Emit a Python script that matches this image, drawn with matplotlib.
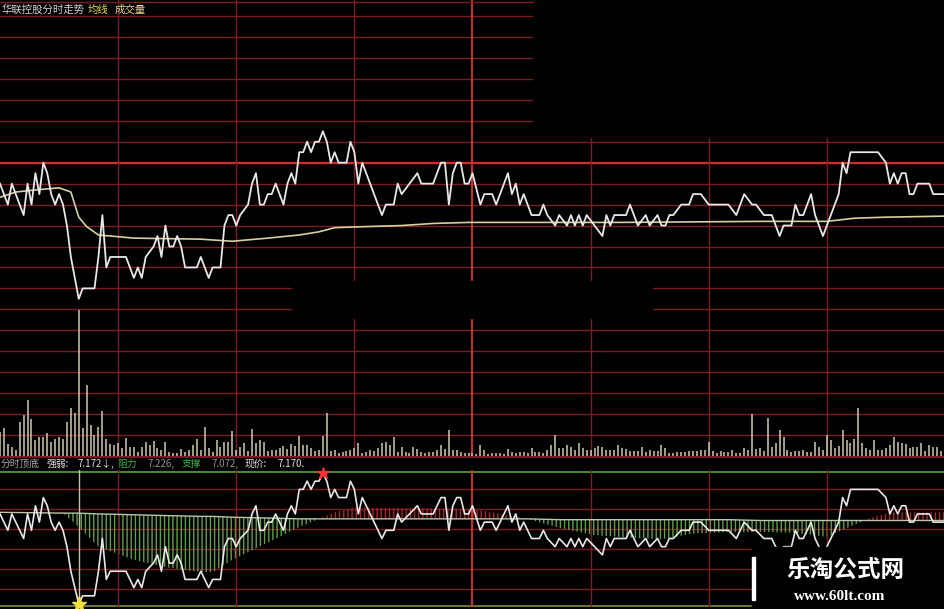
import numpy as np
import matplotlib.pyplot as plt
from matplotlib.patches import Rectangle

plt.rcParams['font.family'] = ['Noto Sans CJK SC', 'DejaVu Sans']
plt.rcParams['hatch.linewidth'] = 1.0

# 分时价格 (分钟序号, 价格)
price_t = [0, 2, 3, 6, 7, 8, 9, 10, 11, 12, 13, 14, 15, 16, 17, 18, 19, 20, 21, 24,
           25, 26, 27, 28, 32, 33, 34, 35, 36, 37, 39, 40, 41, 42, 43, 44, 45, 46, 47, 50,
           51, 52, 53, 54, 56, 57, 58, 59, 60, 61, 63, 64, 65, 66, 67, 68, 69, 70, 71, 72,
           73, 74, 75, 76, 77, 78, 79, 80, 81, 82, 83, 84, 85, 86, 88, 89, 90, 91, 92, 93,
           94, 95, 97, 98, 100, 101, 102, 104, 106, 107, 110, 112, 113, 114, 115, 116, 117, 118, 119, 120,
           122, 123, 125, 126, 127, 129, 130, 131, 132, 133, 135, 137, 138, 139, 141, 142, 144, 145, 146, 147,
           148, 149, 151, 153, 154, 155, 156, 159, 160, 161, 162, 164, 165, 167, 168, 169, 170, 171, 173, 175,
           176, 178, 180, 185, 187, 189, 191, 192, 194, 196, 198, 199, 201, 202, 203, 204, 206, 207, 209, 210,
           213, 214, 215, 216, 217, 223, 225, 226, 227, 228, 229, 230, 231, 232, 233, 236, 237, 240]
price = [7.18, 7.16, 7.18, 7.15, 7.18, 7.16, 7.19, 7.17, 7.20, 7.19, 7.17, 7.16, 7.17, 7.16, 7.14, 7.11, 7.09, 7.07, 7.08, 7.08,
         7.11, 7.15, 7.10, 7.11, 7.11, 7.10, 7.09, 7.10, 7.09, 7.11, 7.12, 7.13, 7.11, 7.14, 7.12, 7.12, 7.13, 7.12, 7.10, 7.10,
         7.11, 7.10, 7.09, 7.10, 7.10, 7.14, 7.15, 7.15, 7.14, 7.15, 7.16, 7.18, 7.19, 7.16, 7.16, 7.17, 7.17, 7.18, 7.17, 7.16,
         7.18, 7.19, 7.18, 7.21, 7.21, 7.22, 7.21, 7.22, 7.22, 7.23, 7.22, 7.20, 7.21, 7.20, 7.20, 7.22, 7.21, 7.18, 7.20, 7.19,
         7.18, 7.17, 7.15, 7.16, 7.16, 7.18, 7.17, 7.18, 7.19, 7.18, 7.18, 7.20, 7.20, 7.16, 7.19, 7.20, 7.20, 7.18, 7.18, 7.19,
         7.16, 7.17, 7.17, 7.16, 7.17, 7.19, 7.17, 7.18, 7.16, 7.17, 7.15, 7.15, 7.16, 7.15, 7.14, 7.15, 7.14, 7.15, 7.14, 7.15,
         7.14, 7.15, 7.14, 7.13, 7.15, 7.14, 7.15, 7.15, 7.16, 7.15, 7.14, 7.15, 7.14, 7.15, 7.14, 7.14, 7.15, 7.15, 7.16, 7.16,
         7.17, 7.17, 7.16, 7.16, 7.15, 7.17, 7.16, 7.16, 7.15, 7.15, 7.13, 7.14, 7.14, 7.16, 7.15, 7.15, 7.17, 7.15, 7.13, 7.14,
         7.17, 7.20, 7.19, 7.21, 7.21, 7.21, 7.20, 7.18, 7.19, 7.18, 7.19, 7.19, 7.17, 7.17, 7.18, 7.18, 7.17, 7.17]

# 均价线
avg_t = [0, 4, 9, 15, 18, 20, 22, 25, 34, 51, 59, 68, 76, 81, 85, 93, 102, 110, 119, 135, 157, 194, 210, 217, 225, 240]
avg_p = [7.167, 7.172, 7.174, 7.176, 7.172, 7.148, 7.139, 7.131, 7.128, 7.127, 7.125, 7.128, 7.131, 7.134, 7.138,
         7.139, 7.140, 7.142, 7.143, 7.143, 7.143, 7.144, 7.144, 7.147, 7.148, 7.149]

# 成交量 (每分钟)
volume = [24, 28, 12, 9, 6, 34, 41, 56, 37, 16,
          19, 19, 23, 14, 17, 19, 17, 34, 48, 43,
          146, 28, 71, 31, 21, 29, 45, 17, 12, 11,
          13, 8, 18, 9, 9, 4, 9, 14, 11, 15,
          8, 6, 14, 4, 3, 3, 7, 4, 6, 11,
          17, 6, 29, 8, 4, 16, 9, 14, 14, 25,
          6, 9, 13, 5, 27, 13, 16, 14, 5, 6,
          6, 8, 10, 7, 12, 10, 20, 11, 11, 8,
          5, 6, 20, 43, 5, 6, 3, 4, 5, 6,
          8, 13, 3, 4, 6, 5, 8, 13, 14, 11,
          19, 4, 9, 4, 3, 9, 7, 4, 3, 4,
          4, 6, 11, 7, 26, 6, 6, 4, 3, 3,
          3, 2, 11, 6, 2, 3, 3, 3, 2, 7,
          4, 3, 4, 4, 3, 8, 4, 4, 3, 6,
          11, 21, 8, 8, 11, 9, 6, 13, 8, 6,
          6, 8, 10, 9, 6, 6, 6, 11, 8, 7,
          5, 5, 5, 9, 4, 6, 5, 5, 11, 8,
          3, 3, 4, 4, 4, 5, 5, 5, 6, 6,
          14, 5, 3, 5, 4, 4, 6, 3, 3, 8,
          6, 42, 7, 8, 5, 38, 9, 13, 26, 19,
          6, 4, 5, 5, 6, 4, 4, 14, 9, 6,
          21, 16, 8, 10, 26, 16, 13, 17, 48, 13,
          8, 6, 16, 6, 6, 8, 11, 19, 14, 13,
          12, 8, 9, 9, 13, 5, 11, 9, 9, 5, 4]

# 分时顶底: 中轴与强弱线
osc_t = [0, 16, 20, 25, 34, 42, 51, 54, 59, 68, 76, 81, 85, 90, 93, 102, 110, 120, 125, 134,
         142, 151, 160, 168, 176, 185, 193, 202, 210, 220, 223, 227, 240]
osc_mid = [7.182, 7.181, 7.181, 7.180, 7.179, 7.178, 7.177, 7.177, 7.176, 7.175, 7.174, 7.174, 7.174, 7.174,
           7.174, 7.174, 7.174, 7.174, 7.174, 7.174, 7.173, 7.173, 7.173, 7.173, 7.173, 7.173, 7.172, 7.172,
           7.172, 7.172, 7.172, 7.172, 7.172]
osc_val = [7.182, 7.181, 7.164, 7.140, 7.124, 7.115, 7.109, 7.109, 7.124, 7.145, 7.164, 7.174, 7.182, 7.188,
           7.188, 7.187, 7.187, 7.186, 7.182, 7.174, 7.163, 7.154, 7.151, 7.149, 7.156, 7.158, 7.158, 7.157,
           7.152, 7.173, 7.178, 7.182, 7.182]

strength = 7.172
resist = 7.226
support = 7.072

W, H = 945, 609
GRID = '#7e1c24'
BRIGHT = '#d42c2c'


def box(top, bottom):
    return [0, 1 - bottom / H, 1, (bottom - top) / H]


fig = plt.figure(figsize=(W / 100, H / 100), dpi=100, facecolor='black')

# background layer (pixel coords) for the lower panel frame
bg = fig.add_axes([0, 0, 1, 1])
bg.set_xlim(0, W)
bg.set_ylim(H, 0)
bg.axis('off')
for y in [489, 509, 529, 549, 569, 589]:
    bg.plot([0, W], [y, y], color=GRID, lw=1)
bg.plot([0, W], [457, 457], color=GRID, lw=1.2)
bg.plot([0, W], [472, 472], color='#4e8a3c', lw=1.4)
bg.plot([0, W], [606, 606], color='#6f7a3a', lw=1.4)

# price / volume panel
ax = fig.add_axes(box(0, 456))
ax.set_xlim(0, 240)
ax.set_ylim(6.92, 6.92 + 456 / 1047.5)
ax.axis('off')
for lvl in np.arange(6.92, 7.35, 0.02):
    ax.axhline(lvl, color=GRID, lw=1, clip_on=False)
ax.axhline(7.20, color=BRIGHT, lw=1.6)
for m in [30, 60, 90, 150, 180, 210]:
    ax.axvline(m, color=GRID, lw=1)
ax.axvline(120, color=BRIGHT, lw=1.4)
ax.plot(avg_t, avg_p, color='#d8d0a0', lw=1.2)
ax.plot(price_t, price, color='#e8e8e8', lw=1.3)

axv = ax.twinx()
axv.set_ylim(0, 456)
axv.axis('off')
axv.vlines(np.arange(len(volume)), 0, volume, color='#d2cba8', lw=1.1)

# 分时顶底 panel
ai = fig.add_axes(box(470, 607))
ai.set_xlim(0, 240)
ai.set_ylim(7.07 - 3 / 818.75, 7.23 + 3 / 818.75)
ai.axis('off')
for m in [30, 60, 150, 180, 210]:
    ai.axvline(m, color=GRID, lw=1)
ai.axvline(120, color=BRIGHT, lw=1.4)
om = np.array(osc_mid)
ov = np.array(osc_val)
ai.fill_between(osc_t, om, ov, where=ov < om, interpolate=True,
                facecolor='none', edgecolor='#5f9e4a', hatch='||||', linewidth=0)
ai.fill_between(osc_t, om, ov, where=ov > om, interpolate=True,
                facecolor='none', edgecolor='#b02424', hatch='||||', linewidth=0)
ai.plot(osc_t, osc_mid, color='#b8c8a8', lw=1)
low_i = int(np.argmin(price))
high_i = int(np.argmax(price))
ai.axvline(price_t[low_i], color='#c8c0a0', lw=1)
ai.plot(price_t, price, color='#e8e8e8', lw=1.2)
ai.plot(price_t[high_i], price[high_i], marker='*', color='#ff3030', ms=9, clip_on=False)
ai.plot(price_t[low_i], price[low_i], marker='*', color='#f0e040', ms=11, clip_on=False)

# overlay: masks, labels, watermark
top = fig.add_axes([0, 0, 1, 1])
top.set_xlim(0, W)
top.set_ylim(H, 0)
top.axis('off')
top.add_patch(Rectangle((533, 0), W - 533, 137, color='black'))
top.add_patch(Rectangle((292, 281), 360, 37, color='black'))
top.plot([0, 533], [2, 2], color=GRID, lw=1)

top.text(2, 10, '华联控股分时走势', color='#d4d4d4', fontsize=7.5, va='center')
top.text(88, 10, '均线', color='#e0d850', fontsize=7.5, va='center')
top.text(115, 10, '成交量', color='#e8d890', fontsize=7.5, va='center')

label = [(1, '分时顶底', '#a8a8a8'), (47, '强弱:', '#e0e0e0'),
         (77, f'{strength:.3f}↓,', '#e0e0e0'), (117, '阻力', '#40b040'),
         (148, f'{resist:.3f},', '#909090'), (182, '支撑', '#40b040'),
         (212, f'{support:.3f},', '#909090'), (245, '现价:', '#e0e0e0'),
         (278, f'{price[-1]:.3f}.', '#e0e0e0')]
for x, s, c in label:
    top.text(x, 464, s, color=c, fontsize=7, va='center')

top.add_patch(Rectangle((752, 547), W - 752, H - 547, color='black'))
top.add_patch(Rectangle((752, 557), 3, 43, color='white'))
top.text(845, 570, '乐淘公式网', color='white', fontsize=17, fontweight='bold',
         ha='center', va='center')
top.text(840, 597, 'www.60lt.com', color='white', fontsize=11, fontweight='bold',
         family='Liberation Serif', ha='center', va='center')

fig.savefig('out.png', dpi=100, facecolor='black')
